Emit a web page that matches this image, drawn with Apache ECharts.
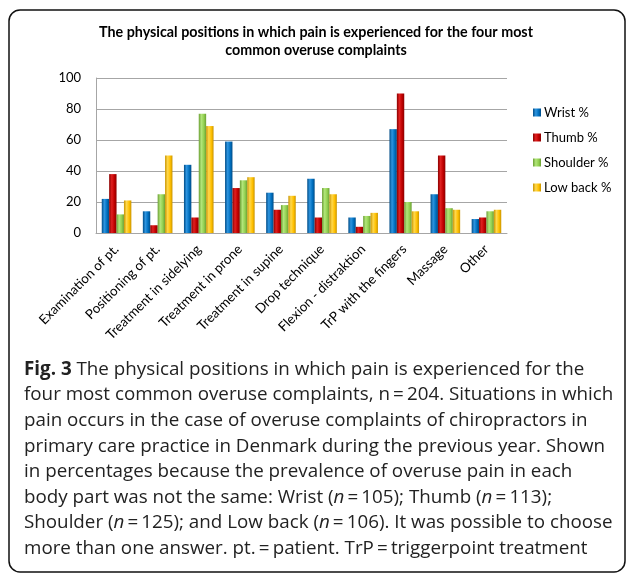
<!DOCTYPE html>
<html><head><meta charset="utf-8">
<script src="https://cdn.jsdelivr.net/npm/echarts@6/dist/echarts.min.js"></script>
<style>html,body{margin:0;padding:0;background:#fff}#c{width:627px;height:575px}</style>
</head><body><div id="c"></div>
<script>
const categories = ["Examination of pt.","Positioning of pt.","Treatment in sidelying","Treatment in prone","Treatment in supine","Drop technique","Flexion - distraktion","TrP with the fingers","Massage","Other"];
const wrist    = [22, 14, 44, 59, 26, 35, 10, 67, 25, 9];
const thumb    = [38, 5, 10, 29, 15, 10, 4, 90, 50, 10];
const shoulder = [12, 25, 77, 34, 18, 29, 11, 20, 16, 14];
const lowBack  = [21, 50, 69, 36, 24, 25, 13, 14, 15, 15];
const seriesNames = ["Wrist %","Thumb %","Shoulder %","Low back %"];
const yTicks = [0, 20, 40, 60, 80, 100];

const colors = ["#0070C0","#C00000","#92D050","#FFC000"];
const dark = ["#004C87","#8A0000","#6A9E33","#C99400"];
const light = ["#2E95E0","#E02020","#B2E67A","#FFD84D"];
function grad(i){
  return new echarts.graphic.LinearGradient(0,0,1,0,[
    {offset:0,color:dark[i]},{offset:0.35,color:light[i]},{offset:0.7,color:colors[i]},{offset:1,color:dark[i]}]);
}
const data = [wrist, thumb, shoulder, lowBack];
const chart = echarts.init(document.getElementById('c'));
const capFont = "'Open Sans', sans-serif";
const EQ = "\u2009=\u2009";
const capLines = [
  [["b","Fig. 3"],["n"," The physical positions in which pain is experienced for the"]],
  [["n","four most common overuse complaints, n"+EQ+"204. Situations in which"]],
  [["n","pain occurs in the case of overuse complaints of chiropractors in"]],
  [["n","primary care practice in Denmark during the previous year. Shown"]],
  [["n","in percentages because the prevalence of overuse pain in each"]],
  [["n","body part was not the same: Wrist ("],["i","n"],["n",EQ+"105); Thumb ("],["i","n"],["n",EQ+"113);"]],
  [["n","Shoulder ("],["i","n"],["n",EQ+"125); and Low back ("],["i","n"],["n",EQ+"106). It was possible to choose"]],
  [["n","more than one answer. pt."+EQ+"patient. TrP"+EQ+"triggerpoint treatment"]]
];
const capGraphics = capLines.map((parts, k) => ({
  type:'text', left:24, top: 360 + k*25.6,
  style:{
    text: parts.map(p => '{' + p[0] + '|' + p[1] + '}').join(''),
    rich:{
      n:{fontFamily:capFont, fontSize:18.8, fill:'#222'},
      b:{fontFamily:capFont, fontSize:18.8, fontWeight:'bold', fill:'#222'},
      i:{fontFamily:capFont, fontSize:18.8, fontStyle:'italic', fill:'#222'}
    }
  }
}));
chart.setOption({
  animation:false,
  title:{
    text:"The physical positions in which pain is experienced for the four most\ncommon overuse complaints",
    left:311, textAlign:'center', top:18,
    textStyle:{fontFamily:"Lato, sans-serif", fontWeight:'bold', fontSize:14.3, color:'#000', lineHeight:18}
  },
  legend:{
    orient:'vertical', left:528, top:101, itemWidth:8, itemHeight:8, itemGap:12,
    icon:'rect', data: seriesNames,
    textStyle:{fontFamily:"Lato, sans-serif", fontSize:13, color:'#000', padding:[0,0,0,-2]}
  },
  grid:{left:96, right:120, top:78, bottom:342},
  xAxis:{
    type:'category', data:categories,
    axisLine:{lineStyle:{color:'#A6A6A6'}}, axisTick:{show:false},
    axisLabel:{interval:0, rotate:45, fontFamily:"Lato, sans-serif", fontSize:13.3, color:'#000', margin:14}
  },
  yAxis:{
    type:'value', min:yTicks[0], max:yTicks[yTicks.length-1], interval:20,
    axisLine:{show:true, lineStyle:{color:'#A6A6A6'}}, axisTick:{show:false},
    splitLine:{lineStyle:{color:'#A6A6A6'}},
    axisLabel:{fontFamily:"Lato, sans-serif", fontSize:13, color:'#000', margin:15}
  },
  series: seriesNames.map((n,i)=>({
    name:n, type:'bar', data:data[i], barGap:'0%', barCategoryGap:'28%',
    itemStyle:{color:grad(i)}
  })),
  color: colors,
  graphic: [
    {type:'rect', shape:{x:9, y:10, width:616, height:562, r:11}, style:{fill:'none', stroke:'#111', lineWidth:1.5}, z:100}
  ].concat(capGraphics)
});
</script></body></html>
